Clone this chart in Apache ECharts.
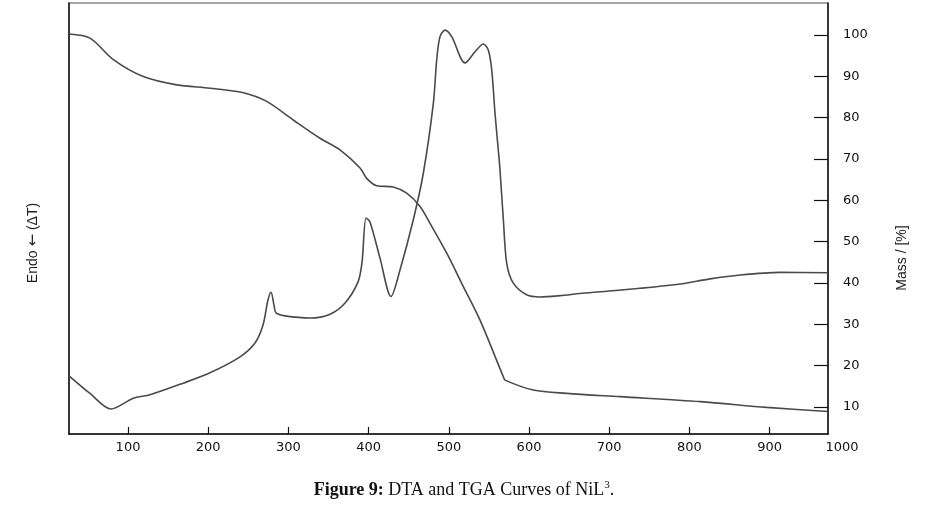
<!DOCTYPE html>
<html>
<head>
<meta charset="utf-8">
<script src="https://cdn.jsdelivr.net/npm/echarts@6/dist/echarts.min.js"></script>
<style>
html,body{margin:0;padding:0;background:#fff;}
#chart{width:926px;height:512px;}
</style>
</head>
<body>
<div id="chart"></div>
<script>
// ---- data ----
var tempMin = 26.4;
var tempMax = 972.8;
var massMin = 3.47;
var massMax = 107.7;
var xTicks = [100, 200, 300, 400, 500, 600, 700, 800, 900];
var xEndLabel = '1000';
var massTicks = [10, 20, 30, 40, 50, 60, 70, 80, 90, 100];

var tgaT    = [26.4, 52.6, 81.7, 119.1, 160.7, 202.2, 243.8, 272.9, 306.1, 339.4, 364.3, 389.3, 397.6, 410.1, 430.8, 447.5, 464.1, 476.6, 497.4, 518.1, 538.9, 568.0, 570.1, 605.4, 647.0, 713.5, 813.8, 896.4, 972.8];
var tgaMass = [100.2, 99.2, 94.0, 89.9, 87.9, 87.1, 86.0, 83.9, 79.4, 75.0, 72.2, 67.8, 65.3, 63.5, 63.2, 61.7, 58.5, 54.4, 47.2, 39.1, 31.0, 17.3, 16.5, 14.1, 13.3, 12.5, 11.3, 9.9, 8.9];

var dtaT      = [26.4, 52.6, 78.8, 106.6, 127.4, 168.9, 202.2, 239.7, 258.3, 268.3, 274.5, 278.3, 282.0, 284.5, 295.8, 326.9, 351.9, 370.6, 386.8, 391.8, 396.8, 401.7, 414.2, 427.9, 439.2, 455.7, 468.2, 480.7, 484.9, 489.0, 495.3, 503.6, 520.2, 532.7, 543.0, 549.2, 553.5, 557.6, 561.7, 563.8, 568.0, 572.2, 580.4, 597.1, 613.7, 638.7, 663.6, 688.5, 738.4, 788.3, 825.7, 863.1, 912.9, 972.8];
var dtaSignal = [13.5, 9.4, 5.8, 8.3, 9.1, 11.8, 14.2, 17.9, 21.1, 25.3, 31.1, 32.9, 29.9, 28.1, 27.4, 26.9, 27.8, 30.4, 35.3, 39.9, 50.1, 49.2, 40.8, 31.9, 38.1, 49.7, 60.5, 76.7, 86.8, 92.2, 93.7, 92.2, 86.1, 88.7, 90.5, 89.1, 84.5, 74.4, 65.9, 61.3, 49.7, 39.6, 35.0, 32.3, 31.8, 32.1, 32.6, 33.0, 33.8, 34.8, 36.0, 36.9, 37.5, 37.4];

function pairs(xs, ys) { return xs.map(function (x, i) { return [x, ys[i]]; }); }

var chart = echarts.init(document.getElementById('chart'), null, {renderer: 'canvas'});
var lineColor = '#4a4a4a';
var labelFont = 'DejaVu Sans';
var sideFont = 'Liberation Sans Narrow, Liberation Sans, sans-serif';

chart.setOption({
  animation: false,
  backgroundColor: '#ffffff',
  grid: {
    left: 69, right: 98, top: 3, bottom: 78,
    show: true, borderColor: '#8a8a8a', borderWidth: 1.5, backgroundColor: 'transparent'
  },
  xAxis: {
    type: 'value', min: tempMin, max: tempMax,
    axisLine: {show: true, onZero: false, lineStyle: {color: '#111', width: 1.5}},
    axisTick: {show: true, inside: true, length: 7, lineStyle: {color: '#111', width: 1.2}, customValues: xTicks},
    axisLabel: {
      show: true, margin: 7, color: '#111', fontFamily: labelFont, fontSize: 13,
      customValues: xTicks.concat([tempMax]),
      formatter: function (v) { return v === tempMax ? '{e|' + xEndLabel + '}' : String(v); },
      rich: {e: {fontFamily: labelFont, fontSize: 13, color: '#111', padding: [0, 0, 0, 28]}}
    },
    splitLine: {show: false}
  },
  yAxis: [
    {
      type: 'value', min: 0, max: 100, position: 'left',
      axisLine: {show: true, onZero: false, lineStyle: {color: '#111', width: 1.5}},
      axisTick: {show: false}, axisLabel: {show: false}, splitLine: {show: false}
    },
    {
      type: 'value', min: massMin, max: massMax, position: 'right',
      axisLine: {show: true, onZero: false, lineStyle: {color: '#111', width: 1.5}},
      axisTick: {show: true, inside: true, length: 14, lineStyle: {color: '#111', width: 1.2}, customValues: massTicks},
      axisLabel: {show: true, margin: 15, color: '#111', fontFamily: labelFont, fontSize: 13, customValues: massTicks},
      splitLine: {show: false}
    }
  ],
  series: [
    {
      name: 'TGA', type: 'line', yAxisIndex: 1, data: pairs(tgaT, tgaMass),
      showSymbol: false, smooth: 0.3,
      lineStyle: {color: lineColor, width: 1.6}
    },
    {
      name: 'DTA', type: 'line', yAxisIndex: 0, data: pairs(dtaT, dtaSignal),
      showSymbol: false, smooth: 0.3,
      lineStyle: {color: lineColor, width: 1.6}
    }
  ],
  graphic: [
    {
      type: 'text', x: 33, y: 243, rotation: Math.PI / 2,
      style: {text: 'Endo {a|←} (ΔT)', fontFamily: sideFont, fontSize: 14,
        fill: '#222', align: 'center', verticalAlign: 'middle',
        rich: {a: {fontFamily: 'DejaVu Sans', fontSize: 15, fill: '#222'}}}
    },
    {
      type: 'text', x: 902, y: 258, rotation: Math.PI / 2,
      style: {text: 'Mass / [%]', fontFamily: sideFont, fontSize: 14,
        fill: '#222', align: 'center', verticalAlign: 'middle'}
    },
    {
      type: 'text', x: 464, y: 490,
      style: {
        text: '{b|Figure 9:} DTA and TGA Curves of NiL{s|3}.',
        fontFamily: 'Liberation Serif', fontSize: 18, fill: '#111',
        align: 'center', verticalAlign: 'middle',
        rich: {
          b: {fontFamily: 'Liberation Serif', fontSize: 18, fontWeight: 'bold', fill: '#111'},
          s: {fontFamily: 'Liberation Serif', fontSize: 11, fill: '#111', verticalAlign: 'top', padding: [0, 0, 9, 0]}
        }
      }
    }
  ]
});
</script>
</body>
</html>
